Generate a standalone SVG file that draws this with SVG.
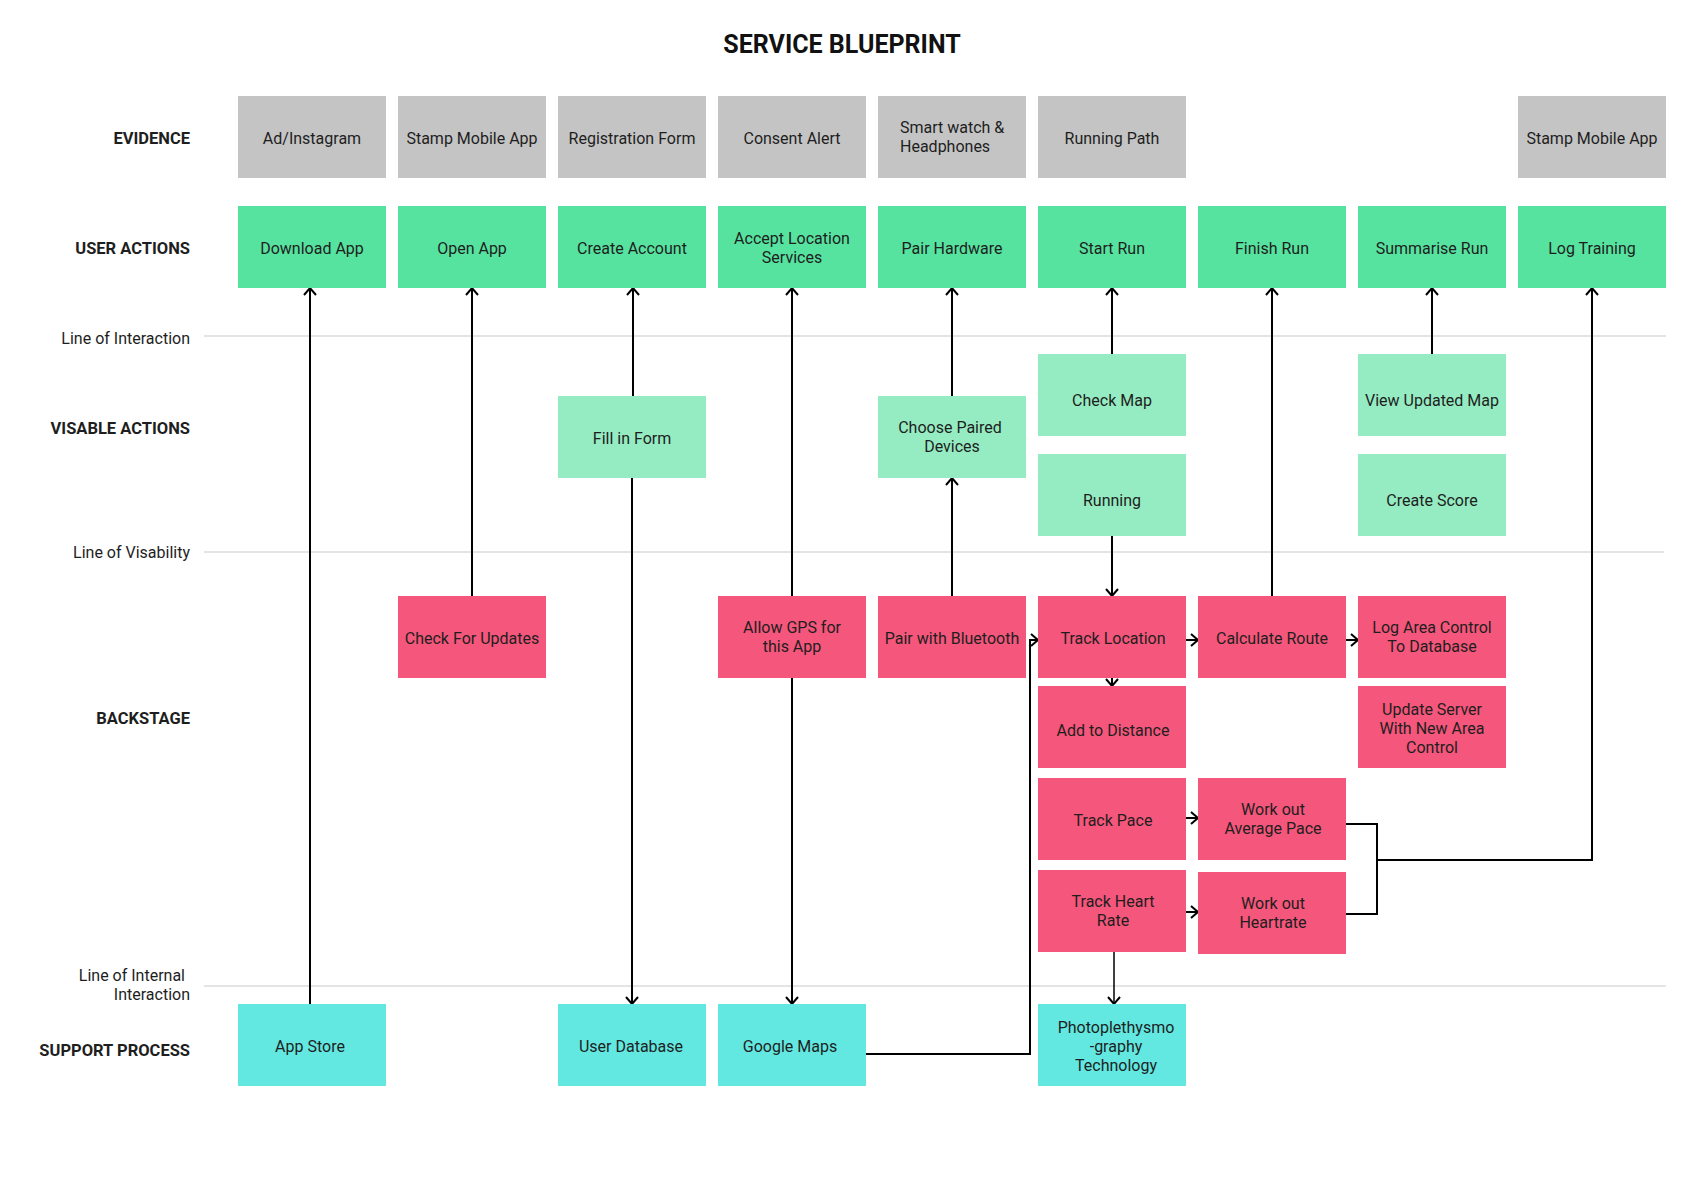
<svg xmlns="http://www.w3.org/2000/svg" width="1684" height="1190" viewBox="0 0 1684 1190">
<defs>
<style>
text{font-family:Roboto,"Liberation Sans",sans-serif;font-size:16px;fill:#1e1e1e}
.t{text-anchor:middle}
.lab{text-anchor:end;font-weight:bold;font-size:16.5px}
.ln{text-anchor:end}
.title{font-size:25px;font-weight:bold;text-anchor:middle;fill:#111}
.ev{fill:#c4c4c4}
.ua{fill:#56e39f}
.va{fill:#95ecc2}
.bs{fill:#f5567b}
.sp{fill:#62e8e1}
.sep{stroke:#e4e4e4;stroke-width:2}
.c{fill:none;stroke:#000;stroke-width:2;marker-end:url(#arr)}
</style>
<marker id="arr" markerUnits="userSpaceOnUse" markerWidth="14" markerHeight="14" viewBox="0 0 14 14" refX="9" refY="7" orient="auto">
<path d="M2,1 L9,7 L2,13" fill="none" stroke="#000" stroke-width="2"/>
</marker>
</defs>
<rect width="1684" height="1190" fill="#fff"/>
<text class="title" x="842" y="53">SERVICE BLUEPRINT</text>

<g id="lanes">
<line class="sep" x1="204" y1="336" x2="1666" y2="336"/>
<line class="sep" x1="204" y1="552" x2="1664" y2="552"/>
<line class="sep" x1="204" y1="986" x2="1666" y2="986"/>
<text class="lab" x="190" y="144">EVIDENCE</text>
<text class="lab" x="190" y="254">USER ACTIONS</text>
<text class="ln" x="190" y="344">Line of Interaction</text>
<text class="lab" x="190" y="434">VISABLE ACTIONS</text>
<text class="ln" x="190" y="558">Line of Visability</text>
<text class="lab" x="190" y="724">BACKSTAGE</text>
<text class="ln"><tspan x="185" y="981">Line of Internal</tspan><tspan x="190" y="1000">Interaction</tspan></text>
<text class="lab" x="190" y="1056">SUPPORT PROCESS</text>
</g>

<g id="connectors">
<path class="c" d="M310,1004 V288"/>
<path class="c" d="M472,596 V288"/>
<path class="c" d="M633,396 V288"/>
<path class="c" d="M632,478 V1004"/>
<path class="c" d="M792,596 V288"/>
<path class="c" d="M792,678 V1004"/>
<path class="c" d="M952,596 V478"/>
<path class="c" d="M952,396 V288"/>
<path class="c" d="M1112,354 V288"/>
<path class="c" d="M1112,536 V596"/>
<path class="c" d="M1112,678 V686"/>
<path class="c" d="M866,1054 H1030 V640 H1038"/>
<path class="c" d="M1186,640 H1198"/>
<path class="c" d="M1346,640 H1358"/>
<path class="c" d="M1272,596 V288"/>
<path class="c" d="M1432,354 V288"/>
<path class="c" d="M1186,818 H1198"/>
<path class="c" d="M1186,912 H1198"/>
<path class="c" d="M1346,824 H1377 V860 H1592 V288"/>
<path d="M1346,914 H1377 V860" fill="none" stroke="#000" stroke-width="2"/>
<path class="c" style="stroke-width:1.5" d="M1114,952 V1004"/>
</g>

<!-- Evidence -->
<g id="ev-ad"><rect class="ev" x="238" y="96" width="148" height="82"/><text class="t" x="312" y="144">Ad/Instagram</text></g>
<g id="ev-stamp1"><rect class="ev" x="398" y="96" width="148" height="82"/><text class="t" x="472" y="144">Stamp Mobile App</text></g>
<g id="ev-reg"><rect class="ev" x="558" y="96" width="148" height="82"/><text class="t" x="632" y="144">Registration Form</text></g>
<g id="ev-consent"><rect class="ev" x="718" y="96" width="148" height="82"/><text class="t" x="792" y="144">Consent Alert</text></g>
<g id="ev-watch"><rect class="ev" x="878" y="96" width="148" height="82"/><text><tspan x="900" y="133">Smart watch &amp;</tspan><tspan x="900" y="152">Headphones</tspan></text></g>
<g id="ev-path"><rect class="ev" x="1038" y="96" width="148" height="82"/><text class="t" x="1112" y="144">Running Path</text></g>
<g id="ev-stamp2"><rect class="ev" x="1518" y="96" width="148" height="82"/><text class="t" x="1592" y="144">Stamp Mobile App</text></g>

<!-- User actions -->
<g id="ua-download"><rect class="ua" x="238" y="206" width="148" height="82"/><text class="t" x="312" y="254">Download App</text></g>
<g id="ua-open"><rect class="ua" x="398" y="206" width="148" height="82"/><text class="t" x="472" y="254">Open App</text></g>
<g id="ua-create"><rect class="ua" x="558" y="206" width="148" height="82"/><text class="t" x="632" y="254">Create Account</text></g>
<g id="ua-accept"><rect class="ua" x="718" y="206" width="148" height="82"/><text class="t"><tspan x="792" y="244">Accept Location</tspan><tspan x="792" y="263">Services</tspan></text></g>
<g id="ua-pair"><rect class="ua" x="878" y="206" width="148" height="82"/><text class="t" x="952" y="254">Pair Hardware</text></g>
<g id="ua-start"><rect class="ua" x="1038" y="206" width="148" height="82"/><text class="t" x="1112" y="254">Start Run</text></g>
<g id="ua-finish"><rect class="ua" x="1198" y="206" width="148" height="82"/><text class="t" x="1272" y="254">Finish Run</text></g>
<g id="ua-summarise"><rect class="ua" x="1358" y="206" width="148" height="82"/><text class="t" x="1432" y="254">Summarise Run</text></g>
<g id="ua-log"><rect class="ua" x="1518" y="206" width="148" height="82"/><text class="t" x="1592" y="254">Log Training</text></g>

<!-- Visible actions -->
<g id="va-fill"><rect class="va" x="558" y="396" width="148" height="82"/><text class="t" x="632" y="444">Fill in Form</text></g>
<g id="va-choose"><rect class="va" x="878" y="396" width="148" height="82"/><text class="t"><tspan x="950" y="433">Choose Paired</tspan><tspan x="952" y="452">Devices</tspan></text></g>
<g id="va-checkmap"><rect class="va" x="1038" y="354" width="148" height="82"/><text class="t" x="1112" y="406">Check Map</text></g>
<g id="va-running"><rect class="va" x="1038" y="454" width="148" height="82"/><text class="t" x="1112" y="506">Running</text></g>
<g id="va-viewmap"><rect class="va" x="1358" y="354" width="148" height="82"/><text class="t" x="1432" y="406">View Updated Map</text></g>
<g id="va-score"><rect class="va" x="1358" y="454" width="148" height="82"/><text class="t" x="1432" y="506">Create Score</text></g>

<!-- Backstage -->
<g id="bs-updates"><rect class="bs" x="398" y="596" width="148" height="82"/><text class="t" x="472" y="644">Check For Updates</text></g>
<g id="bs-gps"><rect class="bs" x="718" y="596" width="148" height="82"/><text class="t"><tspan x="792" y="633">Allow GPS for</tspan><tspan x="792" y="652">this App</tspan></text></g>
<g id="bs-bluetooth"><rect class="bs" x="878" y="596" width="148" height="82"/><text class="t" x="952" y="644">Pair with Bluetooth</text></g>
<g id="bs-track"><rect class="bs" x="1038" y="596" width="148" height="82"/><text class="t" x="1113" y="644">Track Location</text></g>
<g id="bs-route"><rect class="bs" x="1198" y="596" width="148" height="82"/><text class="t" x="1272" y="644">Calculate Route</text></g>
<g id="bs-logarea"><rect class="bs" x="1358" y="596" width="148" height="82"/><text class="t"><tspan x="1432" y="633">Log Area Control</tspan><tspan x="1432" y="652">To Database</tspan></text></g>
<g id="bs-distance"><rect class="bs" x="1038" y="686" width="148" height="82"/><text class="t" x="1113" y="736">Add to Distance</text></g>
<g id="bs-server"><rect class="bs" x="1358" y="686" width="148" height="82"/><text class="t"><tspan x="1432" y="715">Update Server</tspan><tspan x="1432" y="734">With New Area</tspan><tspan x="1432" y="753">Control</tspan></text></g>
<g id="bs-pace"><rect class="bs" x="1038" y="778" width="148" height="82"/><text class="t" x="1113" y="826">Track Pace</text></g>
<g id="bs-avgpace"><rect class="bs" x="1198" y="778" width="148" height="82"/><text class="t"><tspan x="1273" y="815">Work out</tspan><tspan x="1273" y="834">Average Pace</tspan></text></g>
<g id="bs-heart"><rect class="bs" x="1038" y="870" width="148" height="82"/><text class="t"><tspan x="1113" y="907">Track Heart</tspan><tspan x="1113" y="926">Rate</tspan></text></g>
<g id="bs-heartrate"><rect class="bs" x="1198" y="872" width="148" height="82"/><text class="t"><tspan x="1273" y="909">Work out</tspan><tspan x="1273" y="928">Heartrate</tspan></text></g>

<!-- Support -->
<g id="sp-appstore"><rect class="sp" x="238" y="1004" width="148" height="82"/><text class="t" x="310" y="1052">App Store</text></g>
<g id="sp-userdb"><rect class="sp" x="558" y="1004" width="148" height="82"/><text class="t" x="631" y="1052">User Database</text></g>
<g id="sp-maps"><rect class="sp" x="718" y="1004" width="148" height="82"/><text class="t" x="790" y="1052">Google Maps</text></g>
<g id="sp-ppg"><rect class="sp" x="1038" y="1004" width="148" height="82"/><text class="t"><tspan x="1116" y="1033">Photoplethysmo</tspan><tspan x="1116" y="1052">-graphy</tspan><tspan x="1116" y="1071">Technology</tspan></text></g>
</svg>
